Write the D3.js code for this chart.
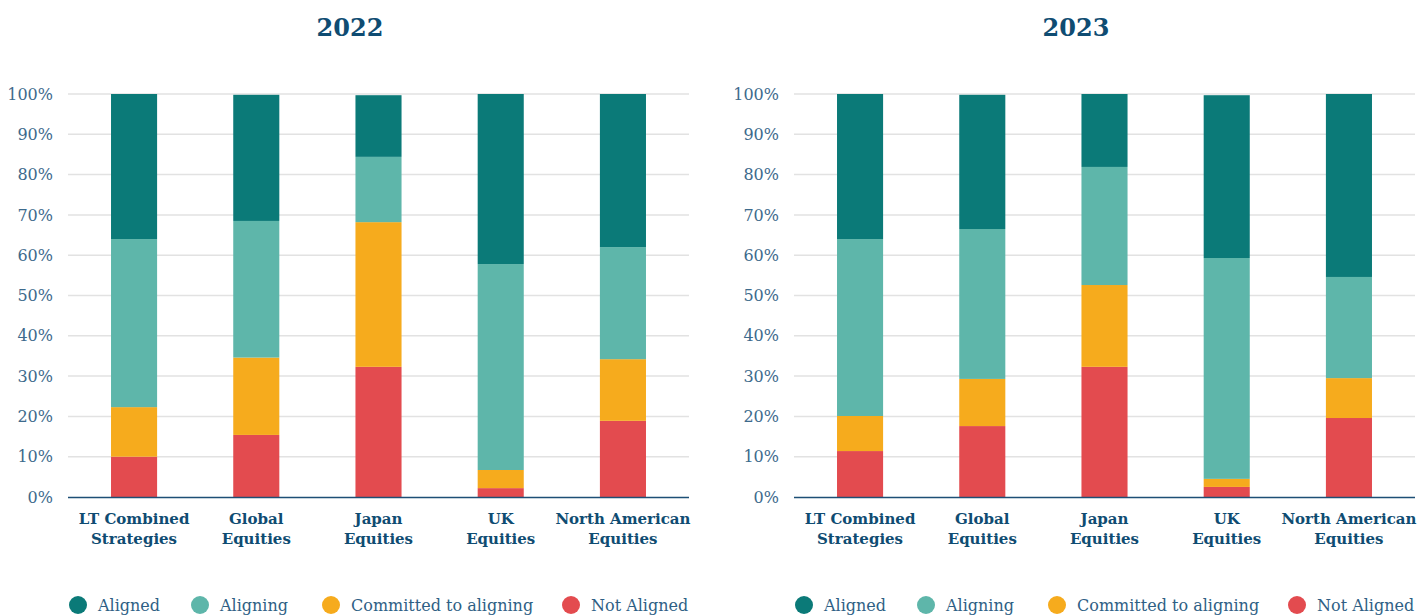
<!DOCTYPE html>
<html>
<head>
<meta charset="utf-8">
<script src="https://cdn.jsdelivr.net/npm/d3@7/dist/d3.min.js"></script>
<style>
    body { margin: 0; background: #fff; }
    svg { display: block; }
    .tick-label { font-family: 'Roboto Slab', 'DejaVu Serif', serif; font-weight: 300; fill: #3d6a8c; }
    .cat-label { font-family: 'Roboto Slab', 'DejaVu Serif', serif; font-weight: 700; fill: #0f4c72; }
    .title { font-family: 'Roboto Slab', 'DejaVu Serif', serif; font-weight: 700; fill: #0f4c72; }
    .legend-text { font-family: 'Roboto Slab', 'DejaVu Serif', serif; font-weight: 300; fill: #2f5f85; }
</style>
</head>
<body>
<svg id="chart" width="1417" height="615"></svg>
<script>
const categories = [
    ['LT Combined', 'Strategies'],
    ['Global', 'Equities'],
    ['Japan', 'Equities'],
    ['UK', 'Equities'],
    ['North American', 'Equities'],
];
const seriesNames = ['Not Aligned', 'Committed to aligning', 'Aligning', 'Aligned'];
const legendOrder = ['Aligned', 'Aligning', 'Committed to aligning', 'Not Aligned'];
const years = ['2022', '2023'];

// values in %, per category, bottom to top
const notAligned2022 = [10, 15.4, 32.3, 2.2, 18.9];
const committed2022 = [12.3, 19.2, 35.9, 4.5, 15.3];
const aligning2022 = [41.7, 33.9, 16.2, 51.1, 27.8];
const aligned2022 = [36.0, 31.3, 15.3, 42.2, 38.0];

const notAligned2023 = [11.4, 17.6, 32.3, 2.5, 19.6];
const committed2023 = [8.7, 11.7, 20.3, 2.0, 9.9];
const aligning2023 = [43.9, 37.2, 29.3, 54.8, 25.1];
const aligned2023 = [36.0, 33.3, 18.1, 40.4, 45.4];

const yTicks = [0, 10, 20, 30, 40, 50, 60, 70, 80, 90, 100];

const colors = {
    'Aligned': '#0b7a78',
    'Aligning': '#5eb6aa',
    'Committed to aligning': '#f6ab1d',
    'Not Aligned': '#e34b4f',
};

const panels = [
    { year: years[0], series: [notAligned2022, committed2022, aligning2022, aligned2022], offset: 0 },
    { year: years[1], series: [notAligned2023, committed2023, aligning2023, aligned2023], offset: 726 },
];

const svg = d3.select('#chart');

const plotLeft = 68;
const plotRight = 689;
const plotTop = 94;
const plotBottom = 497;

const y = d3.scaleLinear()
    .domain([0, 100])
    .range([plotBottom, plotTop]);

function renderPanel(panel) {
    const g = svg.append('g')
        .attr('class', 'panel')
        .attr('transform', `translate(${panel.offset},0)`);

    const x = d3.scaleBand()
        .domain(d3.range(categories.length))
        .range([plotLeft, plotRight])
        .paddingInner(0.623)
        .paddingOuter(0.352);

    g.append('text')
        .attr('class', 'title')
        .attr('x', 350)
        .attr('y', 36)
        .attr('text-anchor', 'middle')
        .style('font-size', '24px')
        .text(panel.year);

    // gridlines
    g.append('g')
        .selectAll('line')
        .data(yTicks.filter(d => d > 0))
        .join('line')
        .attr('x1', plotLeft)
        .attr('x2', plotRight)
        .attr('y1', d => y(d))
        .attr('y2', d => y(d))
        .attr('stroke', '#e2e2e2')
        .attr('stroke-width', 1.5);

    const yAxis = d3.axisLeft(y)
        .tickValues(yTicks)
        .tickSize(0)
        .tickPadding(15)
        .tickFormat(d => `${d}%`);

    const gY = g.append('g')
        .attr('transform', `translate(${plotLeft},0)`)
        .call(yAxis);
    gY.select('.domain').remove();
    gY.selectAll('text')
        .attr('class', 'tick-label')
        .style('font-size', '16px');

    // stacked bars
    const rows = categories.map((c, i) => {
        const row = { index: i };
        seriesNames.forEach((s, j) => { row[s] = panel.series[j][i]; });
        return row;
    });
    const stacked = d3.stack().keys(seriesNames)(rows);

    g.append('g')
        .selectAll('g')
        .data(stacked)
        .join('g')
        .attr('fill', d => colors[d.key])
        .selectAll('rect')
        .data(d => d)
        .join('rect')
        .attr('x', d => x(d.data.index))
        .attr('width', x.bandwidth())
        .attr('y', d => y(d[1]))
        .attr('height', d => y(d[0]) - y(d[1]));

    // x axis line
    g.append('line')
        .attr('x1', plotLeft)
        .attr('x2', plotRight)
        .attr('y1', y(0) + 0.5)
        .attr('y2', y(0) + 0.5)
        .attr('stroke', '#1d4f76')
        .attr('stroke-width', 1.5);

    // category labels
    const labels = g.append('g')
        .selectAll('text')
        .data(categories)
        .join('text')
        .attr('class', 'cat-label')
        .attr('text-anchor', 'middle')
        .attr('x', (d, i) => x(i) + x.bandwidth() / 2)
        .attr('y', 524)
        .style('font-size', '15px');
    labels.selectAll('tspan')
        .data(d => d)
        .join('tspan')
        .attr('x', function () { return d3.select(this.parentNode).attr('x'); })
        .attr('dy', (d, i) => i === 0 ? 0 : 20)
        .text(d => d);

    // legend
    const legendX = [78, 200, 331, 571];
    const legend = g.append('g')
        .selectAll('g')
        .data(legendOrder)
        .join('g')
        .attr('transform', (d, i) => `translate(${legendX[i]},605)`);
    legend.append('circle')
        .attr('r', 9)
        .attr('fill', d => colors[d]);
    legend.append('text')
        .attr('class', 'legend-text')
        .attr('x', 20)
        .attr('dy', '0.35em')
        .style('font-size', '16px')
        .text(d => d);
}

panels.forEach(renderPanel);
</script>
</body>
</html>
